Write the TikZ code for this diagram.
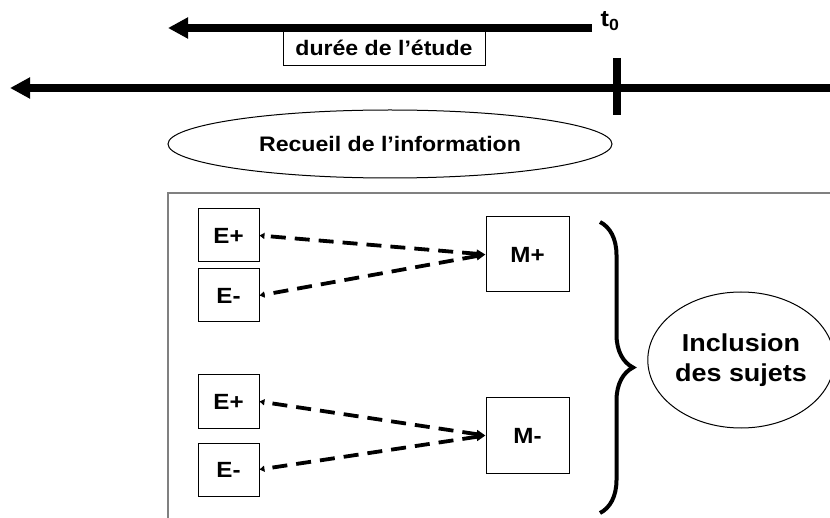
\documentclass[tikz,border=0pt]{standalone}
\usepackage{fontspec}
\setmainfont{Liberation Sans}[FakeStretch=1.1]
\usetikzlibrary{arrows.meta,shapes.geometric,decorations.pathreplacing}

\begin{document}
\begin{tikzpicture}[x=1pt, y=-1pt,
  every node/.style={font=\bfseries\fontsize{21}{25}\selectfont},
  cadre/.style={draw, line width=1pt, minimum width=61pt, minimum height=53pt, inner sep=0pt,
    font=\bfseries\fontsize{22}{25}\selectfont},
  cadreM/.style={cadre, minimum width=83pt, minimum height=75pt},
  fleche/.style={line width=8.5pt, -{Triangle[length=20pt,width=20pt]}},
  lien/.style={line width=3.8pt, dash pattern=on 15pt off 9pt,
    {Triangle[length=9pt,width=8pt]}-{Triangle[length=5pt,width=6pt]}}]
\useasboundingbox (0,0) rectangle (830,518);
\clip (0,0) rectangle (830,518);
\fill[white] (0,0) rectangle (830,518);

% axe du temps
\coordinate (debut) at (592,28);
\coordinate (fin) at (168,28);
\coordinate (droite) at (835,88);
\coordinate (gauche) at (10,88);
\draw[fleche] (debut) -- (fin);
\draw[fleche] (droite) -- (gauche);
\draw[line width=8pt] (617,58) -- (617,115);
\node[font=\bfseries\fontsize{23}{25}\selectfont] (tzero) at (610,21) {t\textsubscript{0}};
\node[draw, line width=0.8pt, minimum width=202pt, minimum height=34pt, inner sep=0pt] (duree) at (384,48) {durée de l’étude};
\node[ellipse, draw, line width=1pt, minimum width=444pt, minimum height=68pt, inner sep=0pt] (recueil) at (390,144) {Recueil de l’information};

% sujets
\draw[gray, line width=1.5pt] (168,193) rectangle (845,530);
\node[cadre] (ephaut) at (228.5,235.5) {E+};
\node[cadre] (emhaut) at (228.5,295.5) {E-};
\node[cadreM] (mplus) at (527.5,254.5) {M+};
\node[cadre] (epbas) at (228.5,401.5) {E+};
\node[cadre] (embas) at (228.5,469.5) {E-};
\node[cadreM] (mmoins) at (527.5,435.5) {M-};
\draw[lien] (mplus.west) -- (ephaut.east);
\draw[lien] (mplus.west) -- (emhaut.east);
\draw[lien] (mmoins.west) -- (epbas.east);
\draw[lien] (mmoins.west) -- (embas.east);

\draw[line width=4pt, decorate, decoration={brace, amplitude=33pt}] (600,222) -- (600,513);
\node[ellipse, draw, line width=1pt, minimum width=178pt, minimum height=136pt, inner sep=0pt, align=center,
  font=\bfseries\fontsize{24.5}{30}\selectfont] (inclusion) at (741,360) {Inclusion\\des sujets};
\end{tikzpicture}
\end{document}
